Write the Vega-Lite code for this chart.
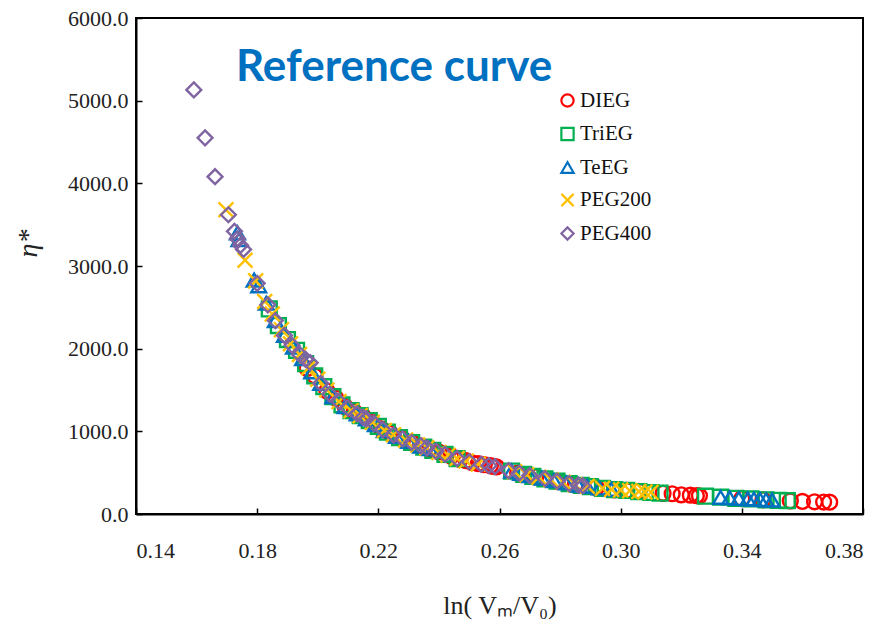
{
  "$schema": "https://vega.github.io/schema/vega-lite/v6.json",
  "width": 727,
  "height": 496,
  "autosize": {"type": "none"},
  "padding": {"left": 136, "top": 18, "right": 22, "bottom": 111},
  "background": "#ffffff",
  "title": {
    "text": "Reference curve",
    "anchor": "start",
    "frame": "group",
    "orient": "top",
    "offset": 0,
    "dx": 100,
    "dy": 118,
    "baseline": "alphabetic",
    "font": "Lato",
    "fontSize": 44,
    "fontWeight": "bold",
    "color": "#0070C0"
  },
  "config": {
    "view": {"stroke": "#000000", "strokeWidth": 2},
    "axis": {
      "grid": false,
      "domainColor": "#000000",
      "domainWidth": 2,
      "tickColor": "#000000",
      "tickWidth": 1.5,
      "labelFont": "Liberation Serif",
      "labelFontSize": 22,
      "labelColor": "#222222",
      "titleFont": "Liberation Serif",
      "titleFontWeight": "normal",
      "titleColor": "#222222"
    }
  },
  "data": {
    "values": [
      {"s":"DIEG","x":0.1965,"y":1760},{"s":"DIEG","x":0.199,"y":1670},{"s":"DIEG","x":0.203,"y":1490},{"s":"DIEG","x":0.206,"y":1400},{"s":"DIEG","x":0.209,"y":1300},{"s":"DIEG","x":0.212,"y":1240},{"s":"DIEG","x":0.215,"y":1180},{"s":"DIEG","x":0.218,"y":1110},{"s":"DIEG","x":0.221,"y":1030},{"s":"DIEG","x":0.224,"y":975},{"s":"DIEG","x":0.228,"y":905},{"s":"DIEG","x":0.231,"y":870},{"s":"DIEG","x":0.234,"y":825},{"s":"DIEG","x":0.237,"y":790},{"s":"DIEG","x":0.240,"y":750},{"s":"DIEG","x":0.244,"y":700},{"s":"DIEG","x":0.247,"y":660},{"s":"DIEG","x":0.249,"y":645},{"s":"DIEG","x":0.251,"y":620},{"s":"DIEG","x":0.253,"y":608},{"s":"DIEG","x":0.255,"y":598},{"s":"DIEG","x":0.257,"y":585},{"s":"DIEG","x":0.258,"y":575},{"s":"DIEG","x":0.259,"y":570},{"s":"DIEG","x":0.266,"y":495},{"s":"DIEG","x":0.272,"y":450},{"s":"DIEG","x":0.279,"y":395},{"s":"DIEG","x":0.285,"y":355},{"s":"DIEG","x":0.292,"y":318},{"s":"DIEG","x":0.298,"y":292},{"s":"DIEG","x":0.302,"y":285},{"s":"DIEG","x":0.306,"y":275},{"s":"DIEG","x":0.314,"y":250},{"s":"DIEG","x":0.317,"y":245},{"s":"DIEG","x":0.320,"y":232},{"s":"DIEG","x":0.323,"y":228},{"s":"DIEG","x":0.325,"y":222},{"s":"DIEG","x":0.326,"y":220},{"s":"DIEG","x":0.340,"y":185},{"s":"DIEG","x":0.347,"y":172},{"s":"DIEG","x":0.356,"y":158},{"s":"DIEG","x":0.360,"y":152},{"s":"DIEG","x":0.364,"y":148},{"s":"DIEG","x":0.367,"y":145},{"s":"DIEG","x":0.369,"y":143},
      {"s":"TriEG","x":0.184,"y":2480},{"s":"TriEG","x":0.187,"y":2280},{"s":"TriEG","x":0.190,"y":2110},{"s":"TriEG","x":0.193,"y":1980},{"s":"TriEG","x":0.196,"y":1820},{"s":"TriEG","x":0.199,"y":1670},{"s":"TriEG","x":0.202,"y":1540},{"s":"TriEG","x":0.205,"y":1420},{"s":"TriEG","x":0.208,"y":1320},{"s":"TriEG","x":0.211,"y":1250},{"s":"TriEG","x":0.214,"y":1190},{"s":"TriEG","x":0.217,"y":1130},{"s":"TriEG","x":0.220,"y":1060},{"s":"TriEG","x":0.223,"y":990},{"s":"TriEG","x":0.227,"y":925},{"s":"TriEG","x":0.231,"y":865},{"s":"TriEG","x":0.235,"y":810},{"s":"TriEG","x":0.238,"y":770},{"s":"TriEG","x":0.242,"y":720},{"s":"TriEG","x":0.246,"y":670},{"s":"TriEG","x":0.264,"y":520},{"s":"TriEG","x":0.268,"y":480},{"s":"TriEG","x":0.271,"y":455},{"s":"TriEG","x":0.275,"y":425},{"s":"TriEG","x":0.279,"y":397},{"s":"TriEG","x":0.283,"y":368},{"s":"TriEG","x":0.287,"y":345},{"s":"TriEG","x":0.290,"y":330},{"s":"TriEG","x":0.294,"y":310},{"s":"TriEG","x":0.298,"y":295},{"s":"TriEG","x":0.302,"y":285},{"s":"TriEG","x":0.306,"y":272},{"s":"TriEG","x":0.310,"y":260},{"s":"TriEG","x":0.313,"y":252},{"s":"TriEG","x":0.328,"y":215},{"s":"TriEG","x":0.333,"y":203},{"s":"TriEG","x":0.338,"y":190},{"s":"TriEG","x":0.343,"y":182},{"s":"TriEG","x":0.348,"y":172},{"s":"TriEG","x":0.352,"y":166},{"s":"TriEG","x":0.355,"y":162},
      {"s":"TeEG","x":0.1735,"y":3400},{"s":"TeEG","x":0.174,"y":3320},{"s":"TeEG","x":0.179,"y":2830},{"s":"TeEG","x":0.1805,"y":2760},{"s":"TeEG","x":0.183,"y":2550},{"s":"TeEG","x":0.186,"y":2340},{"s":"TeEG","x":0.189,"y":2160},{"s":"TeEG","x":0.192,"y":2020},{"s":"TeEG","x":0.195,"y":1880},{"s":"TeEG","x":0.198,"y":1720},{"s":"TeEG","x":0.201,"y":1580},{"s":"TeEG","x":0.205,"y":1420},{"s":"TeEG","x":0.209,"y":1300},{"s":"TeEG","x":0.213,"y":1210},{"s":"TeEG","x":0.216,"y":1150},{"s":"TeEG","x":0.219,"y":1080},{"s":"TeEG","x":0.222,"y":1010},{"s":"TeEG","x":0.226,"y":940},{"s":"TeEG","x":0.230,"y":880},{"s":"TeEG","x":0.234,"y":820},{"s":"TeEG","x":0.237,"y":790},{"s":"TeEG","x":0.264,"y":520},{"s":"TeEG","x":0.267,"y":490},{"s":"TeEG","x":0.270,"y":465},{"s":"TeEG","x":0.274,"y":435},{"s":"TeEG","x":0.278,"y":405},{"s":"TeEG","x":0.282,"y":375},{"s":"TeEG","x":0.286,"y":350},{"s":"TeEG","x":0.289,"y":335},{"s":"TeEG","x":0.293,"y":315},{"s":"TeEG","x":0.297,"y":298},{"s":"TeEG","x":0.333,"y":202},{"s":"TeEG","x":0.336,"y":195},{"s":"TeEG","x":0.339,"y":188},{"s":"TeEG","x":0.342,"y":183},{"s":"TeEG","x":0.344,"y":180},{"s":"TeEG","x":0.346,"y":176},{"s":"TeEG","x":0.348,"y":172},{"s":"TeEG","x":0.350,"y":168},
      {"s":"PEG200","x":0.1697,"y":3680},{"s":"PEG200","x":0.176,"y":3070},{"s":"PEG200","x":0.1795,"y":2820},{"s":"PEG200","x":0.1825,"y":2570},{"s":"PEG200","x":0.185,"y":2420},{"s":"PEG200","x":0.188,"y":2230},{"s":"PEG200","x":0.191,"y":2060},{"s":"PEG200","x":0.194,"y":1930},{"s":"PEG200","x":0.197,"y":1770},{"s":"PEG200","x":0.200,"y":1630},{"s":"PEG200","x":0.203,"y":1500},{"s":"PEG200","x":0.207,"y":1360},{"s":"PEG200","x":0.211,"y":1250},{"s":"PEG200","x":0.214,"y":1190},{"s":"PEG200","x":0.218,"y":1110},{"s":"PEG200","x":0.222,"y":1010},{"s":"PEG200","x":0.225,"y":960},{"s":"PEG200","x":0.229,"y":895},{"s":"PEG200","x":0.233,"y":835},{"s":"PEG200","x":0.236,"y":800},{"s":"PEG200","x":0.240,"y":745},{"s":"PEG200","x":0.243,"y":712},{"s":"PEG200","x":0.246,"y":672},{"s":"PEG200","x":0.249,"y":640},{"s":"PEG200","x":0.253,"y":605},{"s":"PEG200","x":0.265,"y":510},{"s":"PEG200","x":0.269,"y":475},{"s":"PEG200","x":0.273,"y":445},{"s":"PEG200","x":0.277,"y":415},{"s":"PEG200","x":0.281,"y":385},{"s":"PEG200","x":0.285,"y":355},{"s":"PEG200","x":0.289,"y":335},{"s":"PEG200","x":0.294,"y":310},{"s":"PEG200","x":0.297,"y":298},{"s":"PEG200","x":0.300,"y":290},{"s":"PEG200","x":0.303,"y":282},{"s":"PEG200","x":0.306,"y":272},{"s":"PEG200","x":0.308,"y":266},{"s":"PEG200","x":0.310,"y":262},
      {"s":"PEG400","x":0.1591,"y":5130},{"s":"PEG400","x":0.1628,"y":4550},{"s":"PEG400","x":0.1661,"y":4080},{"s":"PEG400","x":0.1705,"y":3620},{"s":"PEG400","x":0.1725,"y":3420},{"s":"PEG400","x":0.1735,"y":3330},{"s":"PEG400","x":0.1745,"y":3250},{"s":"PEG400","x":0.1755,"y":3200},{"s":"PEG400","x":0.180,"y":2790},{"s":"PEG400","x":0.1835,"y":2530},{"s":"PEG400","x":0.186,"y":2340},{"s":"PEG400","x":0.189,"y":2160},{"s":"PEG400","x":0.1915,"y":2040},{"s":"PEG400","x":0.194,"y":1930},{"s":"PEG400","x":0.196,"y":1870},{"s":"PEG400","x":0.1975,"y":1830},{"s":"PEG400","x":0.201,"y":1580},{"s":"PEG400","x":0.204,"y":1450},{"s":"PEG400","x":0.207,"y":1360},{"s":"PEG400","x":0.210,"y":1280},{"s":"PEG400","x":0.213,"y":1210},{"s":"PEG400","x":0.215,"y":1170},{"s":"PEG400","x":0.216,"y":1150},{"s":"PEG400","x":0.2185,"y":1100},{"s":"PEG400","x":0.2215,"y":1020},{"s":"PEG400","x":0.225,"y":955},{"s":"PEG400","x":0.228,"y":910},{"s":"PEG400","x":0.231,"y":865},{"s":"PEG400","x":0.234,"y":825},{"s":"PEG400","x":0.236,"y":800},{"s":"PEG400","x":0.239,"y":760},{"s":"PEG400","x":0.242,"y":722},{"s":"PEG400","x":0.246,"y":672},{"s":"PEG400","x":0.250,"y":632},{"s":"PEG400","x":0.254,"y":600},{"s":"PEG400","x":0.2565,"y":585},{"s":"PEG400","x":0.2585,"y":572},{"s":"PEG400","x":0.263,"y":525},{"s":"PEG400","x":0.2665,"y":495},{"s":"PEG400","x":0.270,"y":465},{"s":"PEG400","x":0.275,"y":428},{"s":"PEG400","x":0.279,"y":397},{"s":"PEG400","x":0.283,"y":368},{"s":"PEG400","x":0.286,"y":350},{"s":"PEG400","x":0.2875,"y":342}
    ]
  },
  "mark": {"type": "point", "filled": false, "size": 220, "strokeWidth": 2.4, "opacity": 1},
  "encoding": {
    "x": {
      "field": "x",
      "type": "quantitative",
      "scale": {"domain": [0.14, 0.38], "nice": false, "zero": false},
      "axis": {
        "values": [0.14, 0.18, 0.22, 0.26, 0.30, 0.34, 0.38],
        "format": ".2f",
        "tickSize": -6,
        "labelPadding": 32,
        "title": "ln( Vₘ/V₀)",
        "titleFontSize": 26,
        "titleY": 91,
        "titleBaseline": "middle"
      }
    },
    "y": {
      "field": "y",
      "type": "quantitative",
      "scale": {"domain": [0, 6000], "nice": false},
      "axis": {
        "values": [0, 1000, 2000, 3000, 4000, 5000, 6000],
        "format": ".1f",
        "tickSize": -6,
        "labelPadding": 14,
        "title": "η*",
        "titleFontSize": 28,
        "titleFontStyle": "italic",
        "titleX": -108,
        "titleY": 225,
        "titleAlign": "center",
        "titleBaseline": "middle"
      }
    },
    "color": {
      "field": "s",
      "type": "nominal",
      "scale": {
        "domain": ["DIEG", "TriEG", "TeEG", "PEG200", "PEG400"],
        "range": ["#FF0000", "#00B050", "#0070C0", "#FFC000", "#8064A2"]
      },
      "legend": {
        "orient": "none",
        "legendX": 421,
        "legendY": 72,
        "title": null,
        "labelFont": "Liberation Serif",
        "labelFontSize": 21,
        "labelColor": "#111111",
        "symbolSize": 150,
        "symbolStrokeWidth": 2.2,
        "rowPadding": 10.5,
        "labelOffset": 2
      }
    },
    "shape": {
      "field": "s",
      "type": "nominal",
      "scale": {
        "domain": ["DIEG", "TriEG", "TeEG", "PEG200", "PEG400"],
        "range": ["circle", "square", "triangle-up", "M-1,-1L1,1M-1,1L1,-1", "diamond"]
      },
      "legend": null
    }
  }
}
